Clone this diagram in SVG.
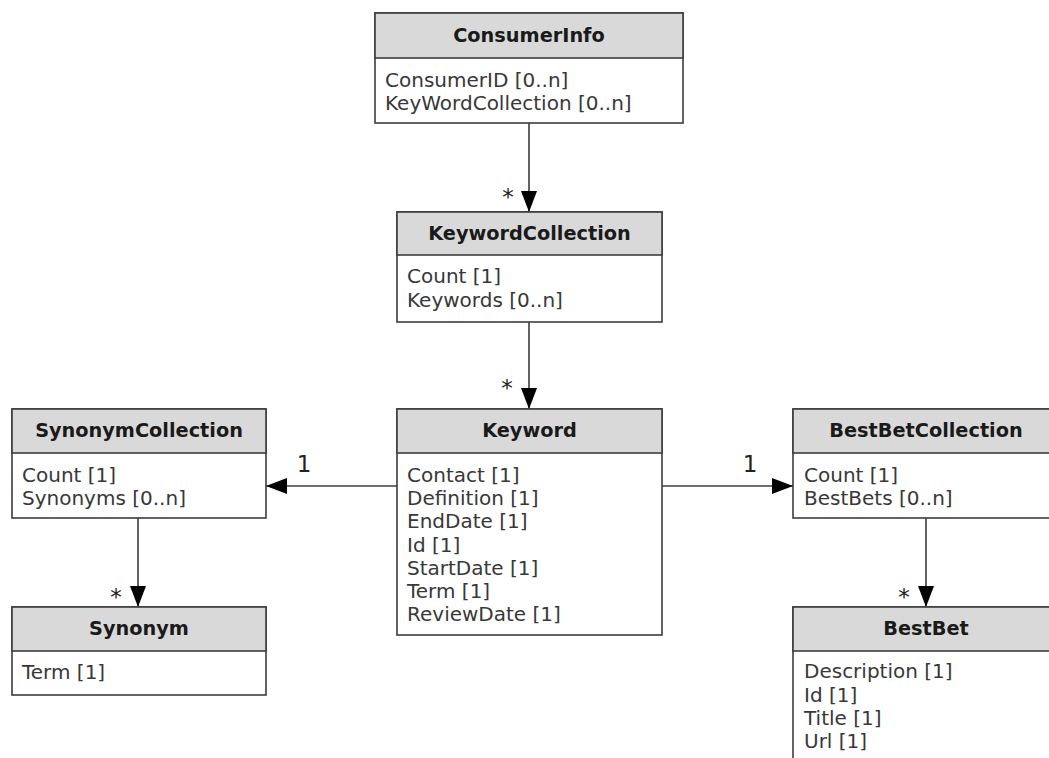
<svg xmlns="http://www.w3.org/2000/svg" width="1049" height="758" viewBox="0 0 1049 758">
<style>
.box{fill:#ffffff;stroke:#3c3c3c;stroke-width:1.6}
.hdr{fill:#d9d9d9;stroke:#3c3c3c;stroke-width:1.6}
.title{font-family:"DejaVu Sans",Verdana,sans-serif;font-size:19.3px;font-weight:bold;fill:#1a1a1a;text-anchor:middle}
.attr{font-family:"DejaVu Sans",Verdana,sans-serif;font-size:20px;fill:#383838}
.lbl{font-family:"DejaVu Sans",Verdana,sans-serif;font-size:23px;fill:#222222;text-anchor:middle}
.conn{stroke:#3c3c3c;stroke-width:1.6;fill:none;marker-end:url(#arr)}
</style>
<defs>
<marker id="arr" markerUnits="userSpaceOnUse" markerWidth="21" markerHeight="16" viewBox="0 0 21 16" refX="21" refY="8" orient="auto">
<path d="M0,0 L21,8 L0,16 Z" fill="#000000"/>
</marker>
</defs>
<rect width="1049" height="758" fill="#ffffff"/>
<g id="connectors">
<line class="conn" x1="529" y1="123" x2="529" y2="212"/>
<line class="conn" x1="529" y1="322" x2="529" y2="409"/>
<line class="conn" x1="397" y1="486" x2="266" y2="486"/>
<line class="conn" x1="662" y1="486" x2="793" y2="486"/>
<line class="conn" x1="138" y1="518" x2="138" y2="607"/>
<line class="conn" x1="926" y1="518" x2="926" y2="607"/>
<text class="lbl" x="508" y="205">*</text>
<text class="lbl" x="507" y="396">*</text>
<text class="lbl" x="116" y="605">*</text>
<text class="lbl" x="904" y="605">*</text>
<text class="lbl" x="304" y="472">1</text>
<text class="lbl" x="750" y="472">1</text>
</g>
<g id="ConsumerInfo">
<rect class="box" x="375" y="13" width="308" height="110"/>
<rect class="hdr" x="375" y="13" width="308" height="45"/>
<text class="title" x="529" y="42">ConsumerInfo</text>
<text class="attr" x="385" y="87">ConsumerID [0..n]</text>
<text class="attr" x="385" y="110">KeyWordCollection [0..n]</text>
</g>
<g id="KeywordCollection">
<rect class="box" x="397" y="212" width="265" height="110"/>
<rect class="hdr" x="397" y="212" width="265" height="43"/>
<text class="title" x="529.5" y="240">KeywordCollection</text>
<text class="attr" x="407" y="283">Count [1]</text>
<text class="attr" x="407" y="307">Keywords [0..n]</text>
</g>
<g id="Keyword">
<rect class="box" x="397" y="409" width="265" height="226"/>
<rect class="hdr" x="397" y="409" width="265" height="44"/>
<text class="title" x="529.5" y="437">Keyword</text>
<text class="attr" x="407" y="482">Contact [1]</text>
<text class="attr" x="407" y="505">Definition [1]</text>
<text class="attr" x="407" y="528">EndDate [1]</text>
<text class="attr" x="407" y="552">Id [1]</text>
<text class="attr" x="407" y="575">StartDate [1]</text>
<text class="attr" x="407" y="598">Term [1]</text>
<text class="attr" x="407" y="621">ReviewDate [1]</text>
</g>
<g id="SynonymCollection">
<rect class="box" x="12" y="409" width="254" height="109"/>
<rect class="hdr" x="12" y="409" width="254" height="44"/>
<text class="title" x="139" y="437">SynonymCollection</text>
<text class="attr" x="22" y="482">Count [1]</text>
<text class="attr" x="22" y="505">Synonyms [0..n]</text>
</g>
<g id="Synonym">
<rect class="box" x="12" y="607" width="254" height="88"/>
<rect class="hdr" x="12" y="607" width="254" height="44"/>
<text class="title" x="139" y="635">Synonym</text>
<text class="attr" x="22" y="679">Term [1]</text>
</g>
<g id="BestBetCollection">
<rect class="box" x="793" y="409" width="266" height="109"/>
<rect class="hdr" x="793" y="409" width="266" height="44"/>
<text class="title" x="926" y="437">BestBetCollection</text>
<text class="attr" x="804" y="482">Count [1]</text>
<text class="attr" x="804" y="505">BestBets [0..n]</text>
</g>
<g id="BestBet">
<rect class="box" x="793" y="607" width="266" height="170"/>
<rect class="hdr" x="793" y="607" width="266" height="44"/>
<text class="title" x="926" y="635">BestBet</text>
<text class="attr" x="804" y="678">Description [1]</text>
<text class="attr" x="804" y="702">Id [1]</text>
<text class="attr" x="804" y="725">Title [1]</text>
<text class="attr" x="804" y="748">Url [1]</text>
</g>
</svg>
